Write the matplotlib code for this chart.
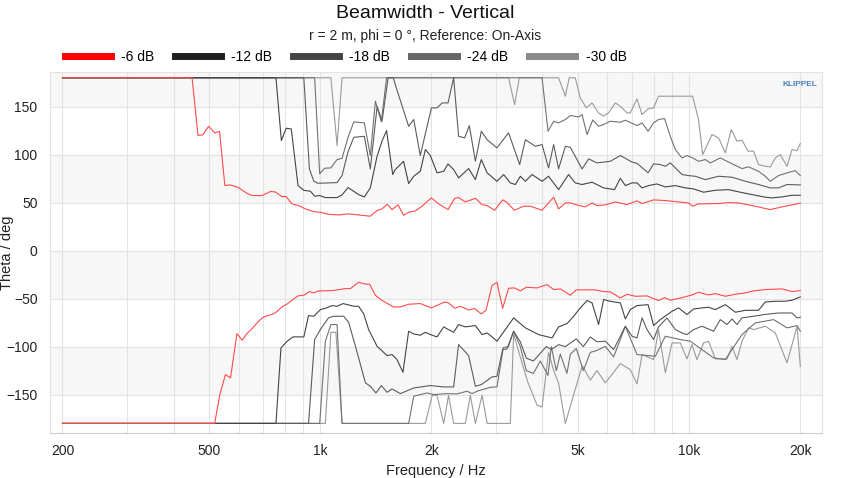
import matplotlib
matplotlib.use("Agg")
import matplotlib.pyplot as plt
from matplotlib.ticker import FixedLocator, NullFormatter
from matplotlib.lines import Line2D

plt.rcParams['font.family'] = ['Liberation Sans', 'DejaVu Sans']

# ---------------- data (frequency in Hz, theta in deg) ----------------
red_up_f = [200, 449, 466, 480, 498, 517, 533, 551, 570, 600, 630, 653, 695, 732, 755, 787, 808, 838, 873, 911, 960, 1000, 1052, 1121, 1193, 1270, 1366, 1425, 1470, 1517, 1565, 1624, 1681, 1735, 1810, 1886, 2000, 2092, 2219, 2313, 2370, 2473, 2632, 2744, 2832, 2967, 3120, 3205, 3355, 3557, 3708, 3990, 4290, 4424, 4615, 4760, 5025, 5228, 5452, 5621, 5924, 6305, 6781, 7217, 7448, 8005, 8613, 9560, 9954, 10212, 10560, 12010, 12780, 13600, 14800, 16582, 17840, 18990, 20000]
red_up_v = [180, 180, 120, 120.5, 129.5, 122.6, 124, 67.7, 68.4, 65.6, 60, 57.3, 57.3, 61.5, 61.1, 56.2, 56.2, 48.6, 46.9, 43.4, 40.6, 39.9, 37.8, 37.1, 38.2, 37.1, 35.8, 41.7, 43.4, 48.2, 42.7, 47.6, 36.8, 39.9, 41.3, 46.2, 54.9, 48.6, 42.7, 54.5, 55.2, 50.7, 54.5, 47.9, 46.9, 42, 52.8, 50.3, 42, 46.2, 46.2, 42, 55.6, 43.4, 49.6, 49.6, 46.9, 45.5, 49.6, 46.9, 47.6, 50.7, 47.9, 51.8, 49, 52.8, 52.1, 50.3, 49.6, 46.2, 48.6, 49, 50, 49.6, 46.9, 42.7, 45.5, 47.6, 49.3]

red_lo_f = [200, 517, 534, 553, 571, 594, 614, 632, 653, 680, 702, 732, 755, 787, 813, 838, 870, 902, 934, 960, 989, 1076, 1126, 1169, 1206, 1270, 1316, 1360, 1410, 1470, 1580, 1647, 1735, 1866, 2000, 2085, 2173, 2226, 2313, 2396, 2523, 2619, 2731, 2812, 2920, 3011, 3120, 3238, 3362, 3484, 3616, 3868, 4114, 4290, 4472, 4760, 4940, 5565, 5860, 6109, 6503, 6781, 7143, 7685, 8254, 8572, 8884, 9560, 10174, 10594, 11276, 11768, 12526, 13333, 14192, 14944, 16077, 17840, 18990, 20000]
red_lo_v = [-180, -180, -150, -129.2, -132.6, -86.5, -93.4, -86.5, -81.3, -73.6, -69.1, -67, -64.9, -58.7, -55.6, -51.7, -47.2, -46.5, -42.7, -44.1, -42, -41.7, -40.6, -39.6, -39.6, -33, -34.7, -35.1, -46.5, -52, -58.7, -58.7, -55.9, -55.2, -59.7, -56.6, -53.5, -54.5, -60.1, -58, -61.8, -60.4, -66, -62.2, -36.5, -33, -60.1, -39.2, -38.9, -42, -38.2, -38.9, -35.4, -40.6, -39.9, -46.5, -40.9, -40.9, -42.7, -43, -49.3, -45.5, -47.6, -47.2, -52, -49, -51.7, -49, -46.2, -43.4, -46.2, -44.8, -47.6, -45.5, -44.1, -42, -40.6, -39.9, -42.7, -41.7]

m12_up_f = [200, 758, 784, 808, 834, 870, 902, 940, 965, 996, 1032, 1110, 1145, 1189, 1270, 1316, 1366, 1425, 1470, 1512, 1571, 1596, 1681, 1735, 1791, 1866, 1926, 1987, 2071, 2160, 2219, 2298, 2370, 2523, 2632, 2731, 2832, 3011, 3140, 3273, 3378, 3484, 3596, 3749, 3990, 4155, 4424, 4708, 4909, 5121, 5452, 5860, 6274, 6503, 6711, 6996, 7217, 7448, 7757, 8171, 8613, 9168, 9759, 10276, 10938, 11768, 12780, 13751, 14800, 16077, 16764, 17840, 18990, 20000]
m12_up_v = [180, 180, 114.6, 127.4, 126.7, 67.7, 62.8, 61.8, 56.6, 57.3, 55.2, 55.2, 58, 65.6, 58.3, 55.9, 65.3, 98.3, 114.2, 125, 79.2, 84.4, 93, 69.8, 77.4, 82.6, 105.2, 99, 81, 82.6, 90.3, 84.4, 75.7, 85.4, 74, 94.8, 81, 72.2, 79.2, 70.5, 68.8, 77.4, 72.2, 79.2, 72.2, 77.4, 63.5, 79.2, 70.5, 68.8, 71.2, 65.3, 63.5, 75.3, 67.7, 70.5, 70.5, 65.3, 67.7, 69.4, 66.3, 67.7, 65.3, 64.2, 60.8, 62.8, 63.5, 60.8, 58.3, 55.6, 54.9, 55.9, 57.6, 57.6]

m18_up_f = [200, 902, 934, 960, 986, 1110, 1145, 1189, 1232, 1316, 1366, 1425, 1470, 1527, 1577, 1596, 1735, 1791, 1866, 2000, 2071, 2139, 2219, 2298, 2370, 2461, 2534, 2632, 2731, 2832, 3011, 3109, 3238, 3470, 3596, 3827, 3990, 4155, 4290, 4424, 4615, 4760, 5121, 5340, 5621, 6109, 6503, 6996, 7217, 7735, 8005, 8346, 8613, 8884, 9560, 9954, 10387, 11056, 12010, 13061, 14192, 15407, 16582, 17455, 18408, 20000]
m18_up_v = [180, 180, 85.1, 72.2, 70.1, 70.8, 78.1, 103, 118, 119, 85, 150, 135, 180, 180, 172.9, 129.5, 136.5, 99, 148.6, 148.6, 153.8, 153.8, 180, 119, 117.4, 130.2, 93, 124.3, 115.5, 107, 113.9, 122.6, 89.6, 115.5, 108.6, 110.4, 86.1, 110.4, 85.1, 108.6, 107.6, 85.1, 95.5, 91.3, 93, 99, 92.2, 90.8, 81, 90.3, 89.6, 87.8, 91.3, 79.2, 78.1, 77.4, 73.9, 77.4, 76.4, 72.2, 68.8, 65.3, 65.3, 68.8, 68.4]

m24_up_f = [200, 965, 996, 1027, 1068, 1110, 1145, 1189, 1232, 1316, 1366, 1410, 1463, 1512, 3990, 4142, 4290, 4424, 4615, 4760, 5025, 5121, 5284, 5474, 5679, 5860, 6109, 6503, 6711, 7217, 7448, 7735, 8005, 8254, 8572, 8884, 9168, 9560, 9863, 10212, 10594, 11056, 11403, 12137, 12919, 13900, 14480, 15407, 16077, 16582, 17455, 18408, 19385, 20000]
m24_up_v = [180, 180, 79.9, 85.8, 86.1, 94.8, 96, 118, 134, 133, 99, 155.6, 134, 180, 180, 124.3, 134.7, 133, 136.5, 140.6, 139.2, 141.7, 120.8, 136, 129.5, 131.3, 134.7, 133.7, 135.8, 130.2, 133, 124.3, 133, 136.5, 137.5, 119, 105.2, 96.5, 99, 96.5, 93, 94.8, 91.3, 96.5, 91.3, 85.4, 87.2, 82.6, 77.4, 72.2, 78.1, 80.9, 83.3, 78.1]

m30_up_f = [200, 1068, 1110, 1145, 3238, 3362, 3463, 4424, 4615, 4728, 4909, 5066, 5258, 5452, 5679, 5860, 6042, 6305, 6503, 6781, 6921, 7217, 7448, 7735, 8005, 8254, 8982, 10212, 10595, 10876, 11526, 12010, 12526, 12997, 13466, 13900, 14431, 14944, 15407, 16077, 16582, 17113, 17649, 18408, 18990, 19600, 20000]
m30_up_v = [180, 180, 109.4, 180, 180, 152, 180, 180, 160.8, 180, 180, 159, 148.6, 153.8, 143.4, 140, 143.4, 153.8, 150.3, 143.4, 143.4, 158, 141.7, 147.6, 148.6, 160.8, 160.8, 160.8, 136.5, 100, 120.8, 117.4, 101.7, 126, 113.9, 115, 103.5, 103.5, 89.6, 87.8, 87.2, 96.5, 100, 87.8, 105.2, 104.2, 111.5]

m12_lo_f = [200, 758, 782, 813, 843, 902, 929, 960, 1000, 1032, 1076, 1110, 1152, 1193, 1232, 1270, 1311, 1352, 1425, 1517, 1565, 1613, 1675, 1735, 1791, 1866, 1926, 1987, 2071, 2160, 2226, 2298, 2370, 2473, 2550, 2632, 2744, 2832, 2920, 3011, 3172, 3342, 3596, 3905, 4247, 4424, 4665, 4861, 5066, 5284, 5452, 5679, 5860, 6109, 6503, 6711, 6921, 7217, 7735, 8005, 8346, 8982, 9352, 9863, 10276, 10831, 11276, 11768, 12526, 13333, 14192, 15407, 16077, 17113, 18214, 18990, 20000]
m12_lo_v = [-180, -180, -101.4, -94.4, -89.9, -89.9, -67.7, -68.4, -61.5, -60.1, -57.3, -58, -55.2, -56.6, -58, -58, -66, -82.3, -99.7, -109.4, -108.3, -113.5, -126.7, -84, -86.8, -88.2, -85.1, -87.5, -89.9, -79.5, -82.3, -85.1, -77, -79.5, -78.8, -78.1, -87.5, -85.8, -89.9, -94.4, -82.3, -70.1, -80.5, -87.5, -91, -79.5, -76, -68.4, -59.7, -52, -54.5, -77, -51, -52.8, -54.5, -71.2, -61.5, -57.3, -56.3, -78.1, -71.9, -63.2, -59.7, -66.6, -60.8, -59.7, -59, -61.5, -56.3, -64.2, -62.2, -62.2, -53.5, -52.8, -52.8, -51.7, -48.3]

m18_lo_f = [200, 929, 965, 1000, 1052, 1086, 1157, 1193, 1245, 1325, 1366, 1415, 1463, 1517, 1565, 1647, 1791, 1987, 2160, 2298, 2370, 2523, 2632, 2731, 2920, 3011, 3120, 3205, 3342, 3484, 3616, 3780, 3947, 4096, 4227, 4424, 4615, 4940, 5163, 5393, 5621, 5924, 6237, 6711, 6996, 7217, 7448, 7685, 8005, 8254, 8702, 9168, 9560, 9863, 10276, 10831, 11641, 12137, 12660, 13061, 13466, 13900, 14944, 15904, 17455, 18990, 19600, 20000]
m18_lo_v = [-180, -180, -92.7, -82.3, -70.1, -68.4, -68.4, -74.7, -99.7, -137.8, -141.3, -148.3, -140.6, -147.6, -144.1, -149, -143.1, -140.6, -142, -142, -97.9, -109.4, -141.3, -139.6, -131.6, -130.9, -103.1, -102.4, -84, -95, -112, -115, -107, -100, -103, -98, -100, -92, -100, -90, -95, -94.4, -103.1, -78.8, -89.2, -91, -70.1, -82.3, -92.7, -79.5, -70.1, -82.3, -85.8, -87.5, -82.3, -78.8, -84, -71.9, -77, -71.2, -77, -70.1, -68.4, -66.7, -65, -65, -70.1, -69.4]

m24_lo_f = [200, 996, 1032, 1068, 1110, 1145, 1735, 1791, 1946, 2028, 2204, 2346, 2499, 2578, 2660, 2889, 3011, 3133, 3234, 3342, 3484, 3616, 3780, 3947, 4142, 4227, 4361, 4472, 4660, 4760, 4940, 5163, 5393, 5621, 5924, 6237, 6711, 7217, 8093, 8613, 9456, 10065, 11641, 12526, 13900, 15104, 16930, 18408, 19600, 20000]
m24_lo_v = [-180, -180, -94.5, -77.1, -77.1, -180, -180, -151.7, -148.3, -150, -149, -149.3, -146.5, -149, -146.5, -142.4, -142, -101, -100, -84, -100, -125, -128, -115, -130, -100, -125, -108, -128, -108, -102, -125, -106, -104, -99.7, -110.8, -78.8, -108.3, -110.1, -89.2, -92.7, -94.4, -111.8, -113.5, -87.5, -75.3, -71.9, -80.5, -78.1, -84]

m30_lo_f = [200, 1032, 1068, 1102, 1145, 1926, 2010, 2071, 2160, 2226, 2298, 2473, 2550, 2632, 2744, 2832, 3273, 3342, 3484, 3650, 3868, 3990, 4155, 4290, 4424, 4615, 4860, 5130, 5393, 5621, 5924, 6503, 6921, 7217, 7448, 8005, 8254, 8613, 8982, 9456, 9863, 10174, 10488, 10938, 11276, 11768, 12660, 13061, 13466, 13900, 14480, 14944, 16077, 17113, 18408, 19600, 20000]
m30_lo_v = [-180, -180, -85.1, -85.1, -180, -180, -150.7, -150.7, -180, -150.7, -180, -180, -150.7, -180, -150.7, -180, -180, -87, -111, -137, -161, -163, -106, -125, -138, -180, -150, -120, -135, -125, -137.8, -117.7, -124, -138.9, -108.3, -113.5, -82.3, -127.4, -96.2, -96.2, -112.8, -97.9, -113.5, -96.2, -94.4, -112.8, -112.8, -99.7, -113.5, -94.4, -80.5, -82.3, -78.8, -85.8, -117, -78.8, -120.5]

levels = ['-6 dB', '-12 dB', '-18 dB', '-24 dB', '-30 dB']
colors = ['#ff4a4a', '#444444', '#5c5c5c', '#727272', '#9a9a9a']
legend_colors = ['#ff0000', '#1e1e1e', '#444444', '#666666', '#8a8a8a']

series = [
    (red_up_f, red_up_v, red_lo_f, red_lo_v),
    (m12_up_f, m12_up_v, m12_lo_f, m12_lo_v),
    (m18_up_f, m18_up_v, m18_lo_f, m18_lo_v),
    (m24_up_f, m24_up_v, m24_lo_f, m24_lo_v),
    (m30_up_f, m30_up_v, m30_lo_f, m30_lo_v),
]

# ---------------- figure ----------------
fig = plt.figure(figsize=(8.5, 4.78), dpi=100)
ax = fig.add_axes([50/850, 1-433/478, (822-50)/850, (433-72)/478])

ax.set_xscale('log')
ax.set_xlim(185, 22900)
ax.set_ylim(-190, 186)

for lo, hi in [(150, 190), (50, 100), (-50, 0), (-150, -100)]:
    ax.axhspan(lo, hi, color='#f7f7f7', zorder=0, lw=0)

for i in range(len(levels) - 1, -1, -1):
    fu, vu, fl, vl = series[i]
    ax.plot(fu, vu, color=colors[i], lw=0.8, zorder=3 + (5 - i))
    ax.plot(fl, vl, color=colors[i], lw=0.8, zorder=3 + (5 - i))

major = [200, 500, 1000, 2000, 5000, 10000, 20000]
major_lbl = ['200', '500', '1k', '2k', '5k', '10k', '20k']
minor = [300, 400, 600, 700, 800, 900, 3000, 4000, 6000, 7000, 8000, 9000]
ax.xaxis.set_major_locator(FixedLocator(major))
ax.set_xticklabels(major_lbl)
ax.xaxis.set_minor_locator(FixedLocator(minor))
ax.xaxis.set_minor_formatter(NullFormatter())
ax.set_yticks([-150, -100, -50, 0, 50, 100, 150])

ax.grid(True, which='both', axis='x', color='#e3e3e3', lw=0.8, zorder=1)
ax.grid(True, which='major', axis='y', color='#e3e3e3', lw=0.8, zorder=1)
ax.set_axisbelow(True)

ax.tick_params(axis='both', which='both', length=0, labelsize=10, colors='#222222')
ax.tick_params(axis='x', pad=8)
ax.tick_params(axis='y', pad=9)
for s in ['top', 'right', 'left']:
    ax.spines[s].set_color('#e3e3e3')
    ax.spines[s].set_linewidth(0.8)
ax.spines['bottom'].set_color('#cccccc')

ax.set_xlabel('Frequency / Hz', fontsize=10.5, color='#222222', labelpad=4)
ax.set_ylabel('Theta / deg', fontsize=10.5, color='#222222')
ax.yaxis.set_label_coords(-0.047, 0.5)

fig.text(0.5, 1-14/478, 'Beamwidth - Vertical', ha='center', va='center', fontsize=14, color='#111111')
fig.text(0.5, 1-36/478, 'r = 2 m, phi = 0 °, Reference: On-Axis', ha='center', va='center', fontsize=10, color='#222222')

hs = [Line2D([], [], color=c, lw=5) for c in legend_colors]
fig.legend(hs, levels, loc='center left', bbox_to_anchor=(62/850, 1-57/478), ncol=5, frameon=False,
           fontsize=10, handlelength=3.3, columnspacing=1.5, handletextpad=0.75,
           borderpad=0.2, borderaxespad=0)

fig.text(800/850, 1-84/478, 'KLIPPEL', ha='center', va='center', fontsize=6, color='#4f81bd', fontweight='bold')

fig.savefig('out.png', dpi=100)
